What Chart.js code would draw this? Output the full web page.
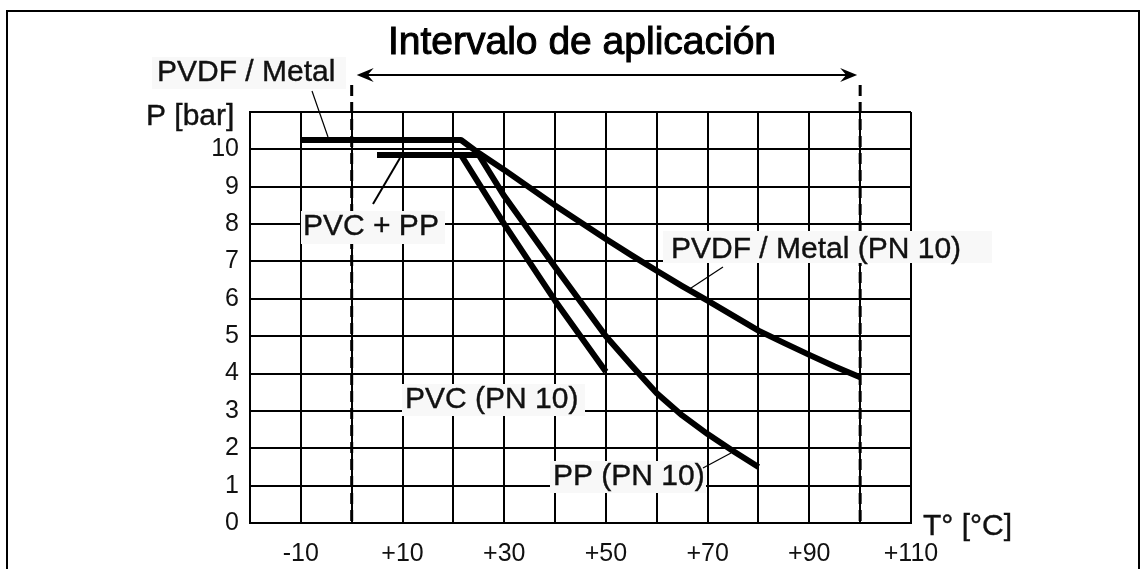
<!DOCTYPE html>
<html>
<head>
<meta charset="utf-8">
<script src="https://cdn.jsdelivr.net/npm/chart.js"></script>
<style>
  html, body { margin: 0; padding: 0; background: #fff; }
  #chart { display: block; }
</style>
</head>
<body>
<canvas id="chart" width="1147" height="569"></canvas>
<script>
// Pressure (bar) vs temperature (°C)
const pvdfTemps = [-10, 21.5, 25, 30, 40, 50, 55, 60, 65, 70, 75, 80, 85, 90, 95, 100];
const pvdfPress = [10.25, 10.25, 9.9, 9.45, 8.5, 7.6, 7.17, 6.75, 6.34, 5.95, 5.55, 5.15, 4.82, 4.5, 4.19, 3.9];

const pvcTemps = [5, 21.5, 30, 40, 50];
const pvcPress = [9.85, 9.85, 8.0, 5.95, 4.05];

const ppTemps = [5, 25, 30, 40, 50, 55, 60, 65, 70, 75, 80];
const ppPress = [9.85, 9.85, 8.75, 6.85, 5.0, 4.22, 3.47, 2.88, 2.38, 1.93, 1.5];

const xTickValues = [-10, 10, 30, 50, 70, 90, 110];
const xTickLabels = ['-10', '+10', '+30', '+50', '+70', '+90', '+110'];
const yTickLabels = ['0', '1', '2', '3', '4', '5', '6', '7', '8', '9', '10'];

// application interval (dashed lines + arrow)
const rangeStart = 0;
const rangeEnd = 100;

const FONT = '"Liberation Sans", Arial, Helvetica, sans-serif';
const INK = '#111';

function toPoints(xs, ys) {
  return xs.map((x, i) => ({ x: x, y: ys[i] }));
}

function lineSet(label, xs, ys) {
  return {
    label: label,
    data: toPoints(xs, ys),
    showLine: true,
    borderColor: '#000',
    borderWidth: 6,
    borderCapStyle: 'butt',
    borderJoinStyle: 'round',
    pointRadius: 0,
    tension: 0
  };
}

// text annotations with their light backing boxes
const notes = [
  { text: 'PVDF / Metal', x: 157, y: 73, box: [152, 57, 194, 32] },
  { text: 'P [bar]', x: 146, y: 117, box: null },
  { text: 'PVC + PP', x: 303, y: 227, box: [301, 211, 144, 33] },
  { text: 'PVDF / Metal (PN 10)', x: 671, y: 250, box: [663, 231, 329, 32] },
  { text: 'PVC (PN 10)', x: 405, y: 400, box: [402, 384, 183, 32] },
  { text: 'PP (PN 10)', x: 553, y: 477, box: [550, 461, 156, 32] },
  { text: 'T\u00b0 [\u00b0C]', x: 923, y: 527, box: null }
];

// thin leader lines from labels to the curves
const leaders = [
  [312, 91, 328, 137, 1.2],
  [373, 204, 400, 158, 2],
  [688, 290, 723, 267, 1.2],
  [703, 468, 731, 453, 1.2]
];

function arrowHead(ctx, x, y, dir) {
  ctx.beginPath();
  ctx.moveTo(x, y);
  ctx.lineTo(x - dir * 17, y - 7);
  ctx.lineTo(x - dir * 11, y);
  ctx.lineTo(x - dir * 17, y + 7);
  ctx.closePath();
  ctx.fill();
}

const overlay = {
  id: 'overlay',
  beforeDatasetsDraw(chart) {
    const ctx = chart.ctx;
    const xs = chart.scales.x;
    const area = chart.chartArea;
    const x0 = xs.getPixelForValue(rangeStart);
    const x1 = xs.getPixelForValue(rangeEnd);

    ctx.save();
    // dashed limits of the application interval
    ctx.strokeStyle = '#000';
    ctx.lineWidth = 3;
    ctx.setLineDash([11, 6]);
    [x0, x1].forEach(px => {
      ctx.beginPath();
      ctx.moveTo(px, 85);
      ctx.lineTo(px, area.bottom);
      ctx.stroke();
    });
    ctx.setLineDash([]);

    // double arrow
    ctx.lineWidth = 2;
    ctx.beginPath();
    ctx.moveTo(x0 + 10, 75);
    ctx.lineTo(x1 - 10, 75);
    ctx.stroke();
    ctx.fillStyle = '#000';
    arrowHead(ctx, x0 + 5, 75, -1);
    arrowHead(ctx, x1 - 3, 75, 1);

    // label boxes + texts
    ctx.font = '30px ' + FONT;
    ctx.textBaseline = 'middle';
    ctx.textAlign = 'left';
    ctx.lineWidth = 0.4;
    ctx.strokeStyle = INK;
    notes.forEach(n => {
      if (n.box) {
        ctx.fillStyle = '#f8f8f8';
        ctx.fillRect(n.box[0], n.box[1], n.box[2], n.box[3]);
      }
      ctx.fillStyle = INK;
      ctx.fillText(n.text, n.x, n.y);
      ctx.strokeText(n.text, n.x, n.y);
    });

    ctx.strokeStyle = '#000';
    leaders.forEach(l => {
      ctx.lineWidth = l[4];
      ctx.beginPath();
      ctx.moveTo(l[0], l[1]);
      ctx.lineTo(l[2], l[3]);
      ctx.stroke();
    });

    // title
    ctx.fillStyle = '#000';
    ctx.strokeStyle = '#000';
    ctx.lineWidth = 1;
    ctx.font = '39px ' + FONT;
    ctx.textAlign = 'center';
    ctx.textBaseline = 'alphabetic';
    ctx.fillText('Intervalo de aplicaci\u00f3n', 582, 54);
    ctx.strokeText('Intervalo de aplicaci\u00f3n', 582, 54);
    ctx.restore();
  },
  afterDraw(chart) {
    // outer frame
    const ctx = chart.ctx;
    ctx.save();
    ctx.strokeStyle = '#000';
    ctx.lineWidth = 2;
    ctx.beginPath();
    ctx.moveTo(7, 569);
    ctx.lineTo(7, 11);
    ctx.lineTo(1139, 11);
    ctx.lineTo(1139, 569);
    ctx.stroke();
    ctx.restore();
  }
};

new Chart(document.getElementById('chart'), {
  type: 'scatter',
  data: {
    datasets: [
      lineSet('PVDF / Metal (PN 10)', pvdfTemps, pvdfPress),
      lineSet('PVC (PN 10)', pvcTemps, pvcPress),
      lineSet('PP (PN 10)', ppTemps, ppPress)
    ]
  },
  options: {
    responsive: false,
    animation: false,
    devicePixelRatio: 1,
    layout: { padding: { top: 112, right: 236, left: 0, bottom: 0 } },
    plugins: {
      legend: { display: false },
      tooltip: { enabled: false }
    },
    scales: {
      x: {
        type: 'linear',
        min: -20,
        max: 110,
        afterFit: s => { s.height = 46; },
        ticks: {
          stepSize: 10,
          autoSkip: false,
          maxRotation: 0,
          padding: 16,
          color: INK,
          font: { family: FONT, size: 25 },
          callback: v => {
            const i = xTickValues.indexOf(v);
            return i >= 0 ? xTickLabels[i] : '';
          }
        },
        grid: { color: '#000', lineWidth: 2, drawTicks: false },
        border: { color: '#000', width: 2 }
      },
      y: {
        min: 0,
        max: 11,
        afterFit: s => { s.width = 250; },
        ticks: {
          stepSize: 1,
          autoSkip: false,
          padding: 11,
          color: INK,
          font: { family: FONT, size: 25 },
          callback: v => (v < yTickLabels.length ? yTickLabels[v] : '')
        },
        grid: { color: '#000', lineWidth: 2, drawTicks: false },
        border: { color: '#000', width: 2 }
      }
    }
  },
  plugins: [overlay]
});
</script>
</body>
</html>
